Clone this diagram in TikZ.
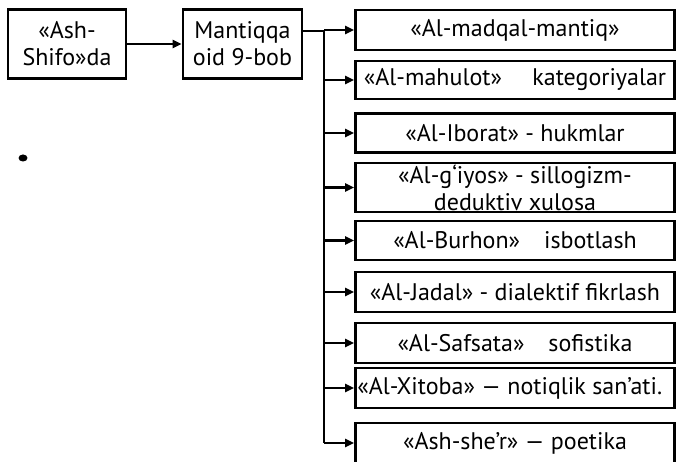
\documentclass[tikz,border=0pt]{standalone}
\usepackage{fontspec}
\setmainfont{PT Sans}
\usetikzlibrary{arrows.meta}
\begin{document}
\begin{tikzpicture}[x=1pt,y=-1pt,
  every node/.style={font=\fontsize{24}{27}\selectfont},
  box/.style={draw, line width=2.6pt, inner sep=0pt, align=center},
  rbox/.style={box, minimum width=319pt},
  conn/.style={line width=2.4pt},
  arr/.style={conn, -{Triangle[length=9pt,width=8pt]}}]
\useasboundingbox (0,0) rectangle (678,462);
\fill[white] (0,0) rectangle (678,462);
\begin{scope}
\clip (0,0) rectangle (678,462);

\node[box, minimum width=118pt, minimum height=69pt] (a) at (67,44) {«Ash-\\Shifo»da};
\node[box, minimum width=119pt, minimum height=69pt] (m) at (242.5,44) {Mantiqqa\\oid 9-bob};
\draw[arr] (a) -- (m);

\node[rbox, minimum height=40pt] (r1) at (515,30) {«Al-madqal-mantiq»};
\node[rbox, minimum height=38pt] (r2) at (515,80) {«Al-mahulot»\quad\ kategoriyalar};
\node[rbox, minimum height=39pt] (r3) at (515,133) {«Al-Iborat» - hukmlar};
\node[rbox, minimum height=49pt] (r4) at (515,187.5) {«Al-g‘iyos» - sillogizm-\\deduktiv xulosa};
\node[rbox, minimum height=39pt] (r5) at (515,240.5) {«Al-Burhon»\quad isbotlash};
\node[rbox, minimum height=40pt] (r6) at (515,292) {«Al-Jadal» - dialektif fikrlash};
\node[rbox, minimum height=40pt] (r7) at (515,343) {«Al-Safsata»\quad sofistika};
\node[rbox, minimum height=40pt] (r8) at (515,388) {};
\node[anchor=west, inner sep=0pt] (t8) at ([xshift=3pt]r8.west) {«Al-Xitoba» — notiqlik san'ati.};
\node[rbox, minimum height=40pt] (r9) at (515,443) {«Ash-she'r» — poetika};

\coordinate (top) at (324,31);
\coordinate (bot) at (324,443);
\draw[conn] (m.east |- top) -- (top);
\draw[conn] (top) -- (bot);
\foreach \i in {1,...,9}{
  \draw[arr] (top |- r\i.west) -- (r\i.west);
}

\fill (23,158) ellipse (4.5pt and 3.5pt);
\end{scope}
\end{tikzpicture}
\end{document}
